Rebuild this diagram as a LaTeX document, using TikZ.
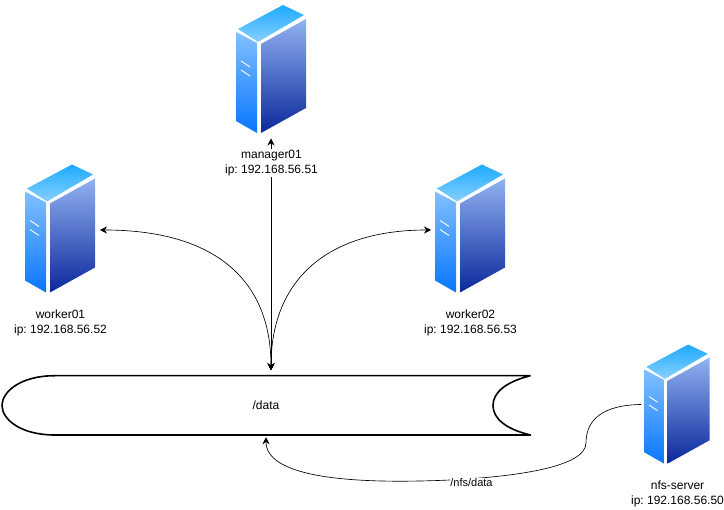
\documentclass[tikz,border=0pt]{standalone}
\usepackage{fontspec}
\setmainfont{Liberation Sans}
\usetikzlibrary{arrows.meta}
\definecolor{topA}{RGB}{30,170,255}
\definecolor{topB}{RGB}{135,208,255}
\definecolor{leftA}{RGB}{130,192,255}
\definecolor{leftB}{RGB}{8,118,255}
\definecolor{rightA}{RGB}{145,178,242}
\definecolor{rightB}{RGB}{10,40,155}
\tikzset{
  serverbox/.style={minimum width=70pt,minimum height=130pt,inner sep=0pt,outer sep=4pt},
  iplabel/.style={fill=white,align=center,inner sep=1pt,font=\fontsize{12}{14.5}\selectfont},
  server/.pic={
    \shade[top color=topA,bottom color=topB] (12,-64.5) -- (33,-54.5) -- (-13,-27.5) -- (-33,-40.5) -- cycle;
    \shade[top color=leftA,bottom color=leftB] (-35,-37.5) -- (-14,-26.5) -- (-14,63.5) -- (-35,51.5) -- cycle;
    \shade[top color=rightA,bottom color=rightB] (-10,-25.5) -- (35,-50.5) -- (35,38.5) -- (-10,63.5) -- cycle;
    \draw[white,line width=.9pt] (-30,-8.5) -- (-21,-2.5) (-30,.5) -- (-21,6.5);
  }
}
\begin{document}
\frenchspacing
\begin{tikzpicture}[x=1pt,y=-1pt,>={Stealth[length=7pt,width=7pt]},line width=.65pt,font=\fontsize{12}{14.5}\selectfont]
\useasboundingbox (0,0) rectangle (724,510);
\node[serverbox] (mgr) at (271,69.5) {};
\node[serverbox] (wrk1) at (60,229) {};
\node[serverbox] (wrk2) at (470,229) {};
\node[serverbox,minimum width=66pt,minimum height=120pt,outer sep=3pt] (nfs) at (677,404.5) {};
\foreach \n in {mgr,wrk1,wrk2}{\pic at (\n.center) {server};}
\pic[scale=.93] at (nfs.center) {server};
% shared folder
\node[minimum width=529pt,minimum height=59.5pt,inner sep=0pt,outer sep=2pt] (drum) at (266,405.5) {/data};
\draw[line width=1.6pt,line join=round] (530.5,375.7) -- (55,375.7) .. controls (20,375.7) and (2,392) .. (2,405.5)
  .. controls (2,419) and (20,435) .. (55,435) -- (530.5,435) .. controls (505,429) and (493,418) .. (493,405.5)
  .. controls (493,393) and (505,382) .. (530.5,375.7);
% links
\draw[<->] (mgr.south) -- ([yshift=3.5pt]mgr.south |- drum.north);
\draw[<->] ([xshift=1pt,yshift=-1pt]wrk1.east) .. controls (215,230) and (271,280) .. ([yshift=3.5pt]mgr.south |- drum.north);
\draw[<->] ([yshift=-1pt]wrk2.west) .. controls (327,230) and (271,280) .. ([yshift=3.5pt]mgr.south |- drum.north);
\draw[->] (nfs.west) .. controls (605,405) and (586,418) .. (586,443)
  .. controls (586,468) and (510,477) .. (450,480)
  .. controls (340,485) and (266,475) .. (drum.south);
% labels
\node[iplabel] (mgrlbl) at (271.5,163) {manager01\\ip: 192.168.56.51};
\node[iplabel] (wrk1lbl) at (60.5,323) {worker01\\ip: 192.168.56.52};
\node[iplabel] (wrk2lbl) at (470.5,323) {worker02\\ip: 192.168.56.53};
\node[iplabel] (nfslbl) at (677.5,494) {nfs-server\\ip: 192.168.56.50};
\node[fill=white,inner sep=.5pt,font=\fontsize{11}{13}\selectfont] (nfspath) at (471.5,483) {/nfs/data};
\end{tikzpicture}
\end{document}
